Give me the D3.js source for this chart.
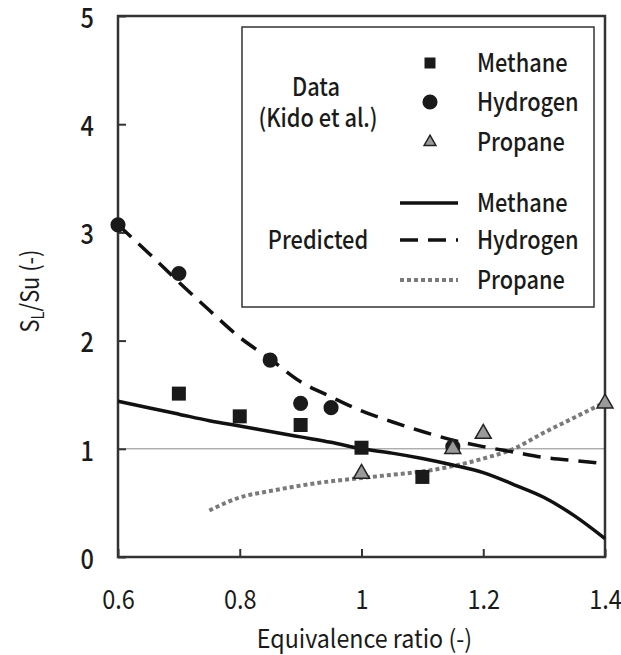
<!DOCTYPE html>
<html>
<head>
<meta charset="utf-8">
<script src="https://cdn.jsdelivr.net/npm/d3@7"></script>
<style>
  body { margin: 0; background: #fff; }
  text { font-family: "Noto Sans CJK JP", "Noto Sans", sans-serif; font-weight: 500; fill: #1a1a1a; }
</style>
</head>
<body>
<div id="chart"></div>
<script>
// measured points (Kido et al.)
var methanePhi = [0.7, 0.8, 0.9, 1.0, 1.1];
var methaneVal = [1.51, 1.30, 1.22, 1.01, 0.74];
var hydrogenPhi = [0.6, 0.7, 0.85, 0.9, 0.95, 1.15];
var hydrogenVal = [3.07, 2.62, 1.82, 1.42, 1.38, 1.02];
var propanePhi = [1.0, 1.15, 1.2, 1.4];
var propaneVal = [0.77, 1.0, 1.14, 1.42];

// predicted curves
var methaneFitPhi = [0.6, 0.65, 0.7, 0.75, 0.8, 0.85, 0.9, 0.95, 1.0, 1.05, 1.1, 1.15, 1.2, 1.25, 1.3, 1.35, 1.4];
var methaneFitVal = [1.44, 1.38, 1.32, 1.26, 1.21, 1.16, 1.11, 1.06, 1.0, 0.96, 0.91, 0.85, 0.78, 0.67, 0.55, 0.38, 0.17];
var hydrogenFitPhi = [0.6, 0.65, 0.7, 0.75, 0.8, 0.85, 0.9, 0.95, 1.0, 1.05, 1.1, 1.15, 1.2, 1.25, 1.3, 1.35, 1.39];
var hydrogenFitVal = [3.07, 2.81, 2.54, 2.28, 2.03, 1.83, 1.62, 1.48, 1.35, 1.25, 1.16, 1.08, 1.02, 0.97, 0.92, 0.89, 0.87];
var propaneFitPhi = [0.75, 0.8, 0.85, 0.9, 0.95, 1.0, 1.05, 1.1, 1.15, 1.2, 1.25, 1.3, 1.35, 1.4];
var propaneFitVal = [0.43, 0.55, 0.61, 0.66, 0.70, 0.73, 0.76, 0.79, 0.84, 0.91, 1.0, 1.15, 1.29, 1.43];

var xTicks = [0.6, 0.8, 1.0, 1.2, 1.4];
var yTicks = [0, 1, 2, 3, 4, 5];

(function() {
  var W = 621, H = 655;
  var pLeft = 118, pRight = 605, pTop = 16, pBottom = 557;
  var squeeze = 0.87; // the original font is a narrow gothic face

  var svg = d3.select("#chart").append("svg")
    .attr("width", W)
    .attr("height", H);

  var x = d3.scaleLinear().domain([0.6, 1.4]).range([pLeft, pRight]);
  var y = d3.scaleLinear().domain([0, 5]).range([pBottom, pTop]);

  function zip(a, b) {
    return a.map(function(v, i) { return [v, b[i]]; });
  }

  function narrow(sel, k) {
    sel.each(function() {
      var w = this.getComputedTextLength();
      d3.select(this)
        .attr("textLength", w * k)
        .attr("lengthAdjust", "spacingAndGlyphs");
    });
  }

  // reference line at 1
  svg.append("line")
    .attr("x1", pLeft).attr("x2", pRight)
    .attr("y1", y(1)).attr("y2", y(1))
    .attr("stroke", "#8a8a8a")
    .attr("stroke-width", 1);

  // axes
  var xAxis = d3.axisBottom(x)
    .tickValues(xTicks)
    .tickSizeInner(-8).tickSizeOuter(0)
    .tickPadding(33)
    .tickFormat(function(d) { return d === 1 ? "1" : d3.format(".1f")(d); });
  var gx = svg.append("g")
    .attr("transform", "translate(0," + pBottom + ")")
    .call(xAxis);

  var yAxis = d3.axisLeft(y)
    .tickValues(yTicks)
    .tickSizeInner(-8).tickSizeOuter(0)
    .tickPadding(24)
    .tickFormat(d3.format("d"));
  var gy = svg.append("g")
    .attr("transform", "translate(" + pLeft + ",0)")
    .call(yAxis);

  [gx, gy].forEach(function(g) {
    g.select(".domain").remove();
    g.selectAll(".tick line").attr("stroke", "#333").attr("stroke-width", 2);
    g.selectAll(".tick text")
      .style("font-family", "'Noto Sans CJK JP', sans-serif")
      .style("font-size", "27px")
      .style("font-weight", g === gy ? "500" : "400")
      .attr("fill", "#1a1a1a");
    narrow(g.selectAll(".tick text"), squeeze);
  });
  gy.selectAll(".tick text").attr("dy", "0.42em");

  // frame
  svg.append("rect")
    .attr("x", pLeft).attr("y", pTop)
    .attr("width", pRight - pLeft).attr("height", pBottom - pTop)
    .attr("fill", "none")
    .attr("stroke", "#333")
    .attr("stroke-width", 2.5);

  // axis titles
  svg.append("text")
    .attr("transform", "translate(" + ((pLeft + pRight) / 2 + 3) + ",648) scale(0.93,1)")
    .attr("text-anchor", "middle")
    .style("font-size", "25px")
    .style("font-weight", "400")
    .text("Equivalence ratio (-)");

  var yt = svg.append("text")
    .attr("transform", "translate(39,291) rotate(-90) scale(" + squeeze + ",1)")
    .attr("text-anchor", "middle")
    .style("font-size", "25px")
    .style("font-weight", "400");
  yt.append("tspan").text("S");
  yt.append("tspan").attr("dy", 5).style("font-size", "17px").text("L");
  yt.append("tspan").attr("dy", -5).text("/Su (-)");

  // predicted lines
  var line = d3.line()
    .x(function(d) { return x(d[0]); })
    .y(function(d) { return y(d[1]); })
    .curve(d3.curveMonotoneX);

  svg.append("path")
    .attr("d", line(zip(propaneFitPhi, propaneFitVal)))
    .attr("fill", "none")
    .attr("stroke", "#7a7a7a")
    .attr("stroke-width", 4)
    .attr("stroke-dasharray", "4,3");

  svg.append("path")
    .attr("d", line(zip(methaneFitPhi, methaneFitVal)))
    .attr("fill", "none")
    .attr("stroke", "#111")
    .attr("stroke-width", 3.5);

  svg.append("path")
    .attr("d", line(zip(hydrogenFitPhi, hydrogenFitVal)))
    .attr("fill", "none")
    .attr("stroke", "#111")
    .attr("stroke-width", 3.5)
    .attr("stroke-dasharray", "18,10");

  // data markers
  var sq = d3.symbol().type(d3.symbolSquare).size(196);
  var ci = d3.symbol().type(d3.symbolCircle).size(180);
  var tr = d3.symbol().type(d3.symbolTriangle).size(110);

  function place(d) { return "translate(" + x(d[0]) + "," + y(d[1]) + ")"; }

  svg.selectAll(".methane")
    .data(zip(methanePhi, methaneVal))
    .enter().append("path")
    .attr("class", "methane")
    .attr("transform", place)
    .attr("d", sq)
    .attr("fill", "#1a1a1a");

  svg.selectAll(".hydrogen")
    .data(zip(hydrogenPhi, hydrogenVal))
    .enter().append("path")
    .attr("class", "hydrogen")
    .attr("transform", place)
    .attr("d", ci)
    .attr("fill", "#1a1a1a");

  svg.selectAll(".propane")
    .data(zip(propanePhi, propaneVal))
    .enter().append("path")
    .attr("class", "propane")
    .attr("transform", place)
    .attr("d", tr)
    .attr("fill", "#9a9a9a")
    .attr("stroke", "#222")
    .attr("stroke-width", 1.5);

  // legend
  var lg = svg.append("g");
  lg.append("rect")
    .attr("x", 242).attr("y", 27)
    .attr("width", 352).attr("height", 280)
    .attr("fill", "#fff")
    .attr("stroke", "#333")
    .attr("stroke-width", 1.5);

  function legText(tx, ty, s, anchor) {
    lg.append("text")
      .attr("transform", "translate(" + tx + "," + ty + ") scale(" + squeeze + ",1)")
      .attr("text-anchor", anchor || "start")
      .style("font-size", "25px")
      .text(s);
  }
  legText(316, 96, "Data", "middle");
  legText(318, 127, "(Kido et al.)", "middle");
  legText(318, 249, "Predicted", "middle");

  var legRows = [
    { kind: "sq", label: "Methane", cy: 63 },
    { kind: "ci", label: "Hydrogen", cy: 102 },
    { kind: "tr", label: "Propane", cy: 142 },
    { kind: "solid", label: "Methane", cy: 203 },
    { kind: "dash", label: "Hydrogen", cy: 240 },
    { kind: "dot", label: "Propane", cy: 280 }
  ];
  legRows.forEach(function(r) {
    if (r.kind === "sq") {
      lg.append("path").attr("transform", "translate(430," + r.cy + ")")
        .attr("d", d3.symbol().type(d3.symbolSquare).size(121)).attr("fill", "#1a1a1a");
    } else if (r.kind === "ci") {
      lg.append("path").attr("transform", "translate(430," + r.cy + ")")
        .attr("d", ci).attr("fill", "#1a1a1a");
    } else if (r.kind === "tr") {
      lg.append("path").attr("transform", "translate(430," + r.cy + ")")
        .attr("d", d3.symbol().type(d3.symbolTriangle).size(60))
        .attr("fill", "#9a9a9a").attr("stroke", "#222").attr("stroke-width", 1.5);
    } else {
      var l = lg.append("line")
        .attr("x1", 400).attr("x2", 458)
        .attr("y1", r.cy).attr("y2", r.cy)
        .attr("stroke-width", r.kind === "dot" ? 4 : 3.5)
        .attr("stroke", r.kind === "dot" ? "#7a7a7a" : "#111");
      if (r.kind === "dash") l.attr("stroke-dasharray", "18,10");
      if (r.kind === "dot") l.attr("stroke-dasharray", "4,3");
    }
    legText(477, r.cy + 9, r.label);
  });
})();
</script>
</body>
</html>
